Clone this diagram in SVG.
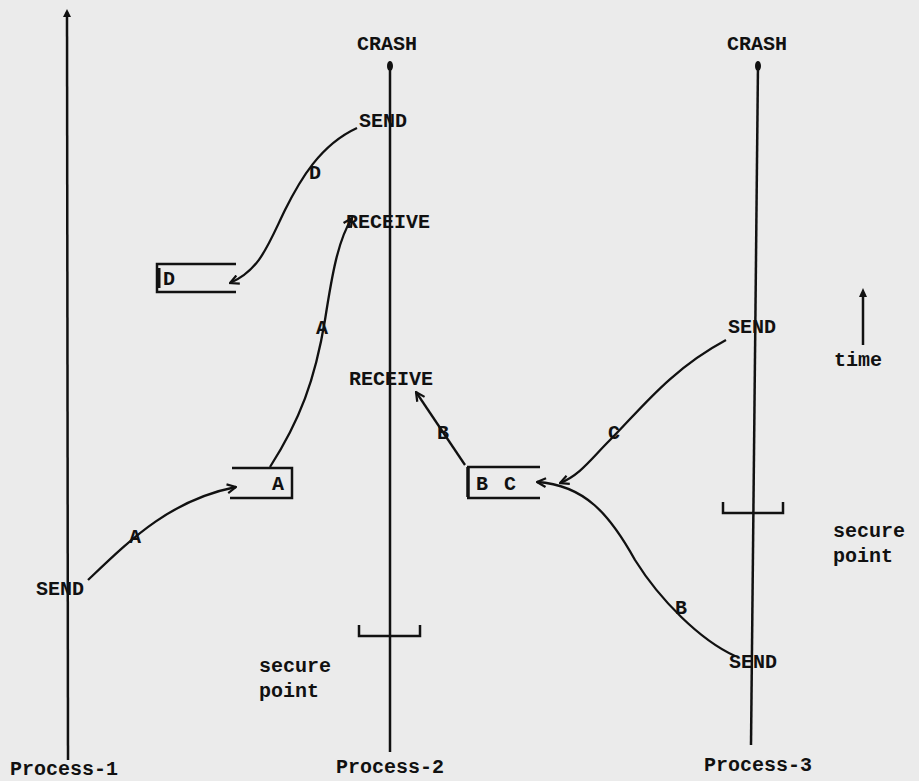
<svg xmlns="http://www.w3.org/2000/svg" width="919" height="781" viewBox="0 0 919 781">
<defs>
<style>
text{font-family:"Liberation Mono","DejaVu Sans Mono",monospace;font-weight:bold;font-size:20px;fill:#111}
.ln{stroke:#111;stroke-width:2.5;fill:none}
.cv{stroke:#111;stroke-width:2.3;fill:none}
.mid{text-anchor:middle}
</style>
<marker id="ah" viewBox="0 0 10 10" refX="9" refY="5" markerWidth="11" markerHeight="11" orient="auto" markerUnits="userSpaceOnUse">
<path d="M1,1 L9,5 L1,9" fill="none" stroke="#111" stroke-width="2"/>
</marker>
</defs>
<rect width="919" height="781" fill="#ebebeb"/>

<g id="process-1">
<line class="ln" x1="67" y1="12" x2="68" y2="760"/>
<path d="M63,17 L67,9 L71,17" fill="#111"/>
<text x="10" y="775">Process-1</text>
<text x="36" y="595">SEND</text>
</g>

<g id="process-2">
<line class="ln" x1="390" y1="64" x2="390" y2="752"/>
<ellipse cx="390" cy="66" rx="3" ry="5" fill="#111"/>
<text class="mid" x="387" y="50">CRASH</text>
<text x="359" y="127">SEND</text>
<text x="346" y="228">RECEIVE</text>
<text x="349" y="385">RECEIVE</text>
<text x="336" y="773">Process-2</text>
</g>

<g id="process-3">
<line class="ln" x1="758" y1="64" x2="751" y2="745"/>
<ellipse cx="758" cy="66" rx="3" ry="5" fill="#111"/>
<text class="mid" x="757" y="50">CRASH</text>
<text x="728" y="333">SEND</text>
<text x="729" y="668">SEND</text>
<text x="704" y="771">Process-3</text>
</g>

<g id="secure-point-2">
<path class="ln" d="M359,625 V636 H420 V625"/>
<text x="259" y="672">secure</text>
<text x="259" y="697">point</text>
</g>

<g id="secure-point-3">
<path class="ln" d="M723,502 V513 H783 V502"/>
<text x="833" y="537">secure</text>
<text x="833" y="562">point</text>
</g>

<g id="time">
<line class="ln" x1="863" y1="292" x2="863" y2="345"/>
<path d="M859,297 L863,288 L867,297 Z" fill="#111"/>
<text x="834" y="366">time</text>
</g>

<g id="buffer-D">
<path class="ln" d="M236,264 H157 V292 H236"/>
<line x1="159" y1="268" x2="159" y2="288" stroke="#111" stroke-width="3"/>
<text x="163" y="285">D</text>
</g>

<g id="buffer-A">
<path class="ln" d="M232,468 H292 V498 H230"/>
<text x="272" y="490">A</text>
</g>

<g id="buffer-BC">
<path class="ln" d="M467,467 H540 M467,498 H540"/>
<line x1="468" y1="467" x2="468" y2="497" stroke="#111" stroke-width="3.5"/>
<text x="476" y="490">B</text>
<text x="504" y="490">C</text>
</g>

<g id="connectors">
<path class="cv" d="M357,128 C320,145 300,180 285,210 C268,245 260,270 230,283" marker-end="url(#ah)"/>
<path class="cv" d="M270,467 C300,420 315,380 325,320 C332,275 338,240 352,218" marker-end="url(#ah)"/>
<path class="cv" d="M88,580 C130,540 170,500 236,487" marker-end="url(#ah)"/>
<path class="cv" d="M465,465 L416,392" marker-end="url(#ah)"/>
<path class="cv" d="M726,340 C670,370 640,410 610,440 C590,460 580,475 560,483" marker-end="url(#ah)"/>
<path class="cv" d="M735,656 C700,640 660,600 635,560 C610,515 585,485 537,482" marker-end="url(#ah)"/>
<text class="mid" x="315" y="179">D</text>
<text class="mid" x="322" y="334">A</text>
<text class="mid" x="135" y="543">A</text>
<text class="mid" x="443" y="439">B</text>
<text class="mid" x="614" y="439">C</text>
<text class="mid" x="681" y="614">B</text>
</g>
</svg>
